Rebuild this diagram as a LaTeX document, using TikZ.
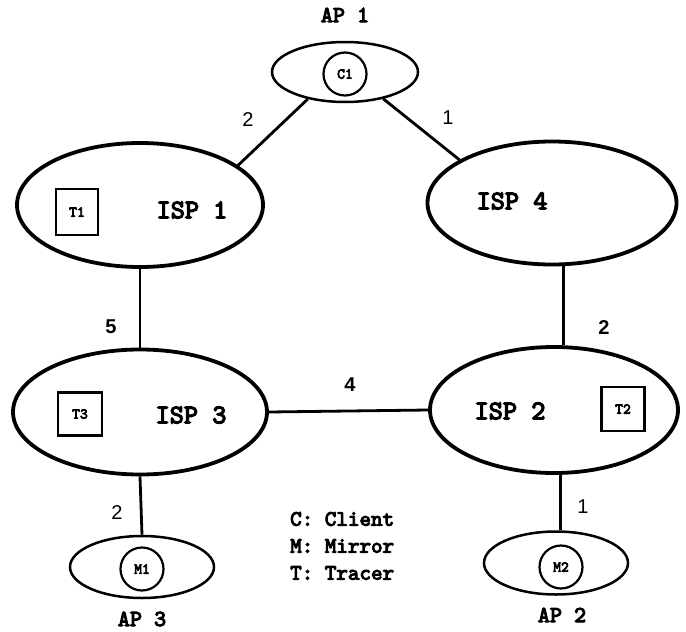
\documentclass[tikz,border=0pt]{standalone}
\usepackage{fontspec}
\setmainfont{Liberation Serif}
\newfontfamily\sansf{Liberation Sans}
\newfontfamily\courb{lmmono10-regular.otf}[FakeBold=4.5]
\usetikzlibrary{shapes.geometric}
\begin{document}
\begin{tikzpicture}[x=1pt,y=-1pt,
  isp/.style={draw, ellipse, line width=3.8pt, inner sep=0pt},
  apell/.style={draw, ellipse, line width=2.5pt, inner sep=0pt},
  hostc/.style={draw, circle, line width=2.2pt, inner sep=0pt, minimum size=43pt, font=\courb\fontsize{15}{17}\selectfont},
  tbox/.style={draw, rectangle, line width=2.2pt, inner sep=0pt, font=\courb\fontsize{15}{17}\selectfont},
  isptxt/.style={font=\courb\fontsize{27}{30}\selectfont, inner sep=0pt},
  aptxt/.style={font=\courb\fontsize{23}{26}\selectfont, inner sep=0pt},
  legtxt/.style={font=\courb\fontsize{22}{26}\selectfont, inner sep=0pt, anchor=west},
  elab/.style={font=\sansf\fontsize{20}{23}\selectfont, inner sep=0pt},
  elabb/.style={font=\sansf\bfseries\fontsize{20}{23}\selectfont, inner sep=0pt},
  conn/.style={line width=2.8pt}]
\useasboundingbox (0,0) rectangle (686,632);

% ISP ellipses
\node[isp, minimum width=246pt, minimum height=124pt] (isp1) at (140,205) {};
\node[isp, minimum width=249pt, minimum height=123pt] (isp4) at (552,203) {};
\node[isp, minimum width=254pt, minimum height=125pt] (isp3) at (140,412) {};
\node[isp, minimum width=248pt, minimum height=126pt] (isp2) at (554,410) {};

% AP ellipses
\node[apell, minimum width=146pt, minimum height=60pt] (ap1) at (345,72) {};
\node[apell, minimum width=144pt, minimum height=62pt] (ap3) at (142,567) {};
\node[apell, minimum width=144pt, minimum height=63pt] (ap2) at (556,563) {};

% hosts
\node[hostc] (c1) at (345,74) {C1};
\node[hostc] (m1) at (142,569) {M1};
\node[hostc] (m2) at (561,567) {M2};

% tracers
\node[tbox, minimum width=42pt, minimum height=46pt] (t1) at (77,212) {T1};
\node[tbox, minimum width=44pt, minimum height=43pt] (t3) at (80,414) {T3};
\node[tbox, minimum width=43pt, minimum height=44pt] (t2) at (623,409) {T2};

% ISP names
\node[isptxt] (n1) at (192,210) {ISP 1};
\node[isptxt] (n4) at (512,201) {ISP 4};
\node[isptxt] (n3) at (191,415) {ISP 3};
\node[isptxt] (n2) at (510,411) {ISP 2};

% AP names
\node[aptxt] (l1) at (345,15) {AP 1};
\node[aptxt] (l3) at (142,619) {AP 3};
\node[aptxt] (l2) at (562,615) {AP 2};

% connectors
\draw[conn] (isp1.22) -- (ap1.216);
\draw[conn] (ap1.-35) -- (isp4.155);
\draw[conn] (isp1.south) -- (isp3.north);
\draw[conn] (isp4.-80) -- (isp4.-80 |- isp2.north);
\draw[conn] (isp3.east) -- (isp2.west);
\draw[conn] (isp3.south) -- (ap3.north);
\draw[conn] (isp2.-84) -- (isp2.-84 |- ap2.north);

% link labels
\node[elab] (e1) at (248,120) {2};
\node[elab] (e2) at (448,118) {1};
\node[elabb] (e3) at (111,327) {5};
\node[elabb] (e4) at (604,328) {2};
\node[elabb] (e5) at (350,385) {4};
\node[elab] (e6) at (117,513) {2};
\node[elab] (e7) at (583,507) {1};

% legend
\node[legtxt] (lg1) at (290,519) {C: Client};
\node[legtxt] (lg2) at (290,546) {M: Mirror};
\node[legtxt] (lg3) at (290,573) {T: Tracer};
\end{tikzpicture}
\end{document}
